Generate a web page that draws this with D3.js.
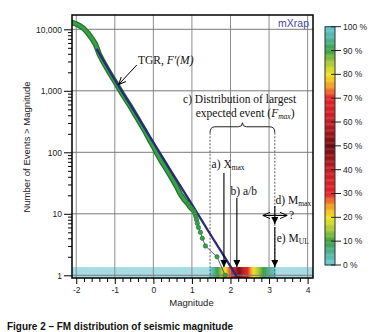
<!DOCTYPE html>
<html>
<head>
<meta charset="utf-8">
<title>FM distribution of seismic magnitude</title>
<script src="https://d3js.org/d3.v7.min.js"></script>
<style>
body { margin: 0; background: #fff; }
.axis text { font-family: "Liberation Sans", Arial, sans-serif; font-size: 8.5px; fill: #222; }
.axis line { stroke: #000; }
.axis path { display: none; }
.ann { font-family: "Liberation Serif", "Times New Roman", serif; font-size: 11.5px; fill: #111; }
</style>
</head>
<body>
<svg id="chart" width="385" height="332"></svg>
<script>
// observed frequency-magnitude data (number of events >= M)
var obsMag   = [-2.1, -2.0, -1.9, -1.8, -1.7, -1.6, -1.5, -1.4, -1.3, -1.2, -1.1, -1.0, -0.9, -0.8, -0.7, -0.6, -0.5, -0.4, -0.3, -0.2, -0.1, 0.0, 0.1, 0.2, 0.3, 0.4, 0.5, 0.6, 0.7, 0.8, 0.9, 0.95, 1.0, 1.05, 1.08, 1.10, 1.12, 1.14, 1.17, 1.22, 1.27, 1.35, 1.65, 1.86];
var obsCount = [12800, 12200, 11300, 10200, 8700, 7200, 5700, 3900, 2950, 2300, 1800, 1420, 1120, 880, 700, 560, 440, 345, 270, 210, 160, 125, 94, 73, 58, 46, 36, 28, 21, 17, 14.5, 13, 12, 11, 10, 9, 8, 7, 6, 5, 4, 3, 2, 1];

// tapered Gutenberg-Richter fit, F'(M)
var tgrMag   = [-1.47, -1.0, -0.5, 0.0, 0.5, 1.0, 1.5, 2.0, 2.3];
var tgrCount = [4800, 1500, 470, 145, 45, 14.2, 4.4, 1.4, 0.68];

// distribution of largest expected event: magnitude reached at each percentile
var fmaxPct = [0, 10, 20, 30, 50, 70, 80, 90, 100];
var fmaxMag = [1.47, 1.66, 1.86, 2.0, 2.22, 2.44, 2.6, 2.85, 3.15];

var magTicks   = [-2, -1, 0, 1, 2, 3, 4];
var countTicks = [1, 10, 100, 1000, 10000];
var pctTicks   = [0, 10, 20, 30, 40, 50, 60, 70, 80, 90, 100];

// colour ramp of the percentile bar
var rampPct    = [0, 5, 10, 15, 20, 25, 30, 40, 50, 60, 70, 75, 80, 85, 90, 95, 100];
var rampColors = ["#6ccdd6", "#4db39a", "#3c9f3f", "#a6c835", "#f0e31e", "#f5981f", "#e5212a", "#c81c22", "#700b0f",
                  "#c81c22", "#e5212a", "#f5981f", "#f0e31e", "#a6c835", "#3c9f3f", "#4db39a", "#5ec6d0"];

var svg = d3.select("#chart");
var pLeft = 72, pRight = 313, pTop = 15, pBottom = 278;

var x = d3.scaleLinear().domain([-2.11, 4.14]).range([pLeft, pRight]);
var y = d3.scaleLog().domain([0.904, 17080]).range([pBottom, pTop]);
var color = d3.scaleLinear().domain(rampPct).range(rampColors);
var magToPct = d3.scaleLinear().domain(fmaxMag).range(fmaxPct).clamp(true);

var defs = svg.append("defs");
defs.append("clipPath").attr("id", "clip")
  .append("rect").attr("x", pLeft).attr("y", pTop).attr("width", pRight - pLeft).attr("height", pBottom - pTop);

defs.append("marker").attr("id", "tri")
    .attr("viewBox", "0 0 10 10").attr("refX", 10).attr("refY", 5)
    .attr("markerWidth", 7).attr("markerHeight", 7)
    .attr("markerUnits", "userSpaceOnUse").attr("orient", "auto")
  .append("path").attr("d", "M0,0L10,5L0,10z").attr("fill", "#000");

defs.append("marker").attr("id", "open")
    .attr("viewBox", "0 0 10 10").attr("refX", 9).attr("refY", 5)
    .attr("markerWidth", 8).attr("markerHeight", 8)
    .attr("markerUnits", "userSpaceOnUse").attr("orient", "auto-start-reverse")
  .append("path").attr("d", "M0,1L9,5L0,9").attr("fill", "none").attr("stroke", "#000").attr("stroke-width", 1.2);

var plot = svg.append("g").attr("clip-path", "url(#clip)");

// cyan band + heat strip for F_max
plot.append("rect")
  .attr("x", pLeft).attr("y", y(1.36))
  .attr("width", pRight - pLeft).attr("height", pBottom - y(1.36))
  .attr("fill", "#a6dce4");

var step = 0.01;
var strip = d3.range(fmaxMag[0], fmaxMag[fmaxMag.length - 1], step);
plot.selectAll("rect.heat").data(strip).enter().append("rect")
  .attr("class", "heat")
  .attr("x", function(d) { return x(d); })
  .attr("y", y(1.36))
  .attr("width", x(step) - x(0) + 0.4)
  .attr("height", pBottom - y(1.36))
  .attr("fill", function(d) { return color(magToPct(d)); });

// grid
plot.selectAll("line.vg").data(magTicks).enter().append("line")
  .attr("x1", function(d) { return x(d); }).attr("x2", function(d) { return x(d); })
  .attr("y1", pTop).attr("y2", pBottom)
  .attr("stroke", "#8c8c8c").attr("stroke-width", 1);
plot.selectAll("line.hg").data(countTicks).enter().append("line")
  .attr("y1", function(d) { return y(d); }).attr("y2", function(d) { return y(d); })
  .attr("x1", pLeft).attr("x2", pRight)
  .attr("stroke", "#7a7a7a").attr("stroke-width", 1);

// observed data
var obs = obsMag.map(function(m, i) { return {m: m, n: obsCount[i]}; });
var line = d3.line().x(function(d) { return x(d.m); }).y(function(d) { return y(d.n); });

var dense = obs.filter(function(d) { return d.n >= 12; });
plot.append("path").datum(dense).attr("d", line)
  .attr("fill", "none").attr("stroke", "#1f7530").attr("stroke-width", 5.5)
  .attr("stroke-linecap", "round").attr("stroke-linejoin", "round");
plot.append("path").datum(dense).attr("d", line)
  .attr("fill", "none").attr("stroke", "#3aa046").attr("stroke-width", 3)
  .attr("stroke-linecap", "round").attr("stroke-linejoin", "round");

var tail = obs.filter(function(d) { return d.n <= 14.5; });
plot.append("path").datum(tail).attr("d", line)
  .attr("fill", "none").attr("stroke", "#4a4aa0").attr("stroke-width", 0.9);

// TGR fit
var tgr = tgrMag.map(function(m, i) { return {m: m, n: tgrCount[i]}; });
plot.append("path").datum(tgr).attr("d", line)
  .attr("fill", "none").attr("stroke", "#2a2a78").attr("stroke-width", 2.3);

plot.selectAll("circle.pt").data(tail).enter().append("circle")
  .attr("class", "pt")
  .attr("cx", function(d) { return x(d.m); }).attr("cy", function(d) { return y(d.n); })
  .attr("r", 2.2)
  .attr("fill", "#3aa046").attr("stroke", "#1f7530").attr("stroke-width", 0.6);

// annotations
var ann = svg.append("g");

// TGR label
var t1 = ann.append("text").attr("class", "ann").attr("x", x(-0.40)).attr("y", y(2700));
t1.append("tspan").text("TGR, ");
t1.append("tspan").attr("font-style", "italic").text("F\u2032(M)");
ann.append("line")
  .attr("x1", x(-0.43)).attr("y1", y(2630))
  .attr("x2", x(-0.90)).attr("y2", y(1265))
  .attr("stroke", "#000").attr("stroke-width", 1).attr("marker-end", "url(#open)");

// c) distribution of largest expected event
ann.append("text").attr("class", "ann").attr("x", x(0.77)).attr("y", y(640)).text("c) Distribution of largest");
var t2 = ann.append("text").attr("class", "ann").attr("x", x(1.10)).attr("y", y(380));
t2.append("tspan").text("expected event (");
t2.append("tspan").attr("font-style", "italic").text("F");
t2.append("tspan").attr("font-style", "italic").attr("font-size", "7.5px").attr("dy", 2).text("max");
t2.append("tspan").attr("dy", -2).text(")");

var xl = x(fmaxMag[0]), xr = x(fmaxMag[fmaxMag.length - 1]), yb = y(260), xm = (xl + xr) / 2;
ann.append("path")
  .attr("d", "M" + xl + "," + (yb + 6) + "Q" + xl + "," + yb + " " + (xl + 5) + "," + yb +
             "L" + (xm - 4) + "," + yb + "Q" + xm + "," + yb + " " + xm + "," + (yb - 4) +
             "Q" + xm + "," + yb + " " + (xm + 4) + "," + yb +
             "L" + (xr - 5) + "," + yb + "Q" + xr + "," + yb + " " + xr + "," + (yb + 6))
  .attr("fill", "none").attr("stroke", "#222").attr("stroke-width", 1);
ann.selectAll("line.dash").data([xl, xr]).enter().append("line")
  .attr("x1", function(d) { return d; }).attr("x2", function(d) { return d; })
  .attr("y1", yb + 6).attr("y2", pBottom)
  .attr("stroke", "#333").attr("stroke-width", 0.8).attr("stroke-dasharray", "2,1.5");

function subLabel(mx, n, main, sub) {
  var t = ann.append("text").attr("class", "ann").attr("x", x(mx)).attr("y", y(n));
  t.append("tspan").text(main);
  t.append("tspan").attr("font-size", "7.5px").attr("dy", 2).text(sub);
  return t;
}
function downArrow(mx, n0, n1) {
  ann.append("line")
    .attr("x1", x(mx)).attr("x2", x(mx))
    .attr("y1", y(n0)).attr("y2", y(n1))
    .attr("stroke", "#000").attr("stroke-width", 1.1).attr("marker-end", "url(#tri)");
}

subLabel(1.51, 55, "a) X", "max");
downArrow(1.83, 46, 1.36);

ann.append("text").attr("class", "ann").attr("x", x(2.0)).attr("y", y(20)).text("b) a/b");
downArrow(2.165, 18, 1.36);

subLabel(3.17, 14.5, "d) M", "max");
downArrow(3.15, 13.4, 6.8);
ann.append("line")
  .attr("x1", x(2.84)).attr("x2", x(3.47))
  .attr("y1", y(9.4)).attr("y2", y(9.4))
  .attr("stroke", "#000").attr("stroke-width", 1.1)
  .attr("marker-start", "url(#open)").attr("marker-end", "url(#open)");
ann.append("text").attr("class", "ann").attr("x", x(3.52)).attr("y", y(8.2)).text("?");

subLabel(3.2, 3.5, "e) M", "UL");
downArrow(3.15, 6.1, 1.36);

ann.append("text")
  .attr("x", pRight - 4).attr("y", pTop + 12)
  .attr("text-anchor", "end")
  .style("font-family", "Liberation Sans, Arial, sans-serif").style("font-size", "10.5px")
  .attr("fill", "#4646a6").text("mXrap");

// frame
svg.append("rect")
  .attr("x", pLeft).attr("y", pTop).attr("width", pRight - pLeft).attr("height", pBottom - pTop)
  .attr("fill", "none").attr("stroke", "#000").attr("stroke-width", 1.5);

// axes
var minorY = [];
countTicks.forEach(function(c) { for (var k = 2; k <= 9; k++) { if (c * k < 17080) minorY.push(c * k); } });
svg.append("g").attr("class", "axis").attr("transform", "translate(" + pLeft + ",0)")
  .call(d3.axisLeft(y).tickValues(countTicks).tickSize(8).tickPadding(2).tickFormat(d3.format(",")));
svg.append("g").attr("class", "axis").attr("transform", "translate(" + pLeft + ",0)")
  .call(d3.axisLeft(y).tickValues(minorY).tickSize(4).tickFormat(""));

var minorX = d3.range(-20, 41, 2).map(function(d) { return d / 10; })
  .filter(function(d) { return Math.round(d) !== d; });
svg.append("g").attr("class", "axis").attr("transform", "translate(0," + pBottom + ")")
  .call(d3.axisBottom(x).tickValues(magTicks).tickSize(6).tickPadding(3).tickFormat(function(d) { return String(d); }));
svg.append("g").attr("class", "axis").attr("transform", "translate(0," + pBottom + ")")
  .call(d3.axisBottom(x).tickValues(minorX).tickSize(4).tickFormat(""));

svg.append("text")
  .attr("x", (pLeft + pRight) / 2 - 1).attr("y", 306)
  .attr("text-anchor", "middle")
  .style("font-family", "Liberation Sans, Arial, sans-serif").style("font-size", "9.5px")
  .attr("fill", "#222").text("Magnitude");
svg.append("text")
  .attr("transform", "translate(30,147) rotate(-90)")
  .attr("text-anchor", "middle")
  .style("font-family", "Liberation Sans, Arial, sans-serif").style("font-size", "9.5px")
  .attr("fill", "#222").text("Number of Events > Magnitude");

// percentile colour bar
var cbX = 325, cbW = 10;
var cy = d3.scaleLinear().domain([0, 100]).range([265, 26.7]);
svg.selectAll("rect.cb").data(d3.range(0, 100, 0.5)).enter().append("rect")
  .attr("class", "cb")
  .attr("x", cbX).attr("width", cbW)
  .attr("y", function(d) { return cy(d + 0.5); })
  .attr("height", cy(0) - cy(0.5) + 0.3)
  .attr("fill", function(d) { return color(d + 0.25); });
svg.append("rect")
  .attr("x", cbX).attr("y", cy(100)).attr("width", cbW).attr("height", cy(0) - cy(100))
  .attr("fill", "none").attr("stroke", "#333").attr("stroke-width", 1);
svg.selectAll("line.cbt").data(pctTicks).enter().append("line")
  .attr("x1", cbX + 6).attr("x2", cbX + cbW + 6)
  .attr("y1", function(d) { return cy(d); }).attr("y2", function(d) { return cy(d); })
  .attr("stroke", "#222").attr("stroke-width", 1);
svg.selectAll("text.cbl").data(pctTicks).enter().append("text")
  .attr("x", cbX + cbW + 8).attr("y", function(d) { return cy(d); }).attr("dy", "0.35em")
  .style("font-family", "Liberation Sans, Arial, sans-serif").style("font-size", "8.5px")
  .attr("fill", "#222").text(function(d) { return d + " %"; });

// caption
svg.append("text")
  .attr("x", 7).attr("y", 329.5)
  .attr("textLength", 226).attr("lengthAdjust", "spacingAndGlyphs")
  .style("font-family", "Liberation Sans, Arial, sans-serif").style("font-size", "10.5px").style("font-weight", "bold")
  .attr("fill", "#111").text("Figure 2 \u2013 FM distribution of seismic magnitude");
</script>
</body>
</html>
